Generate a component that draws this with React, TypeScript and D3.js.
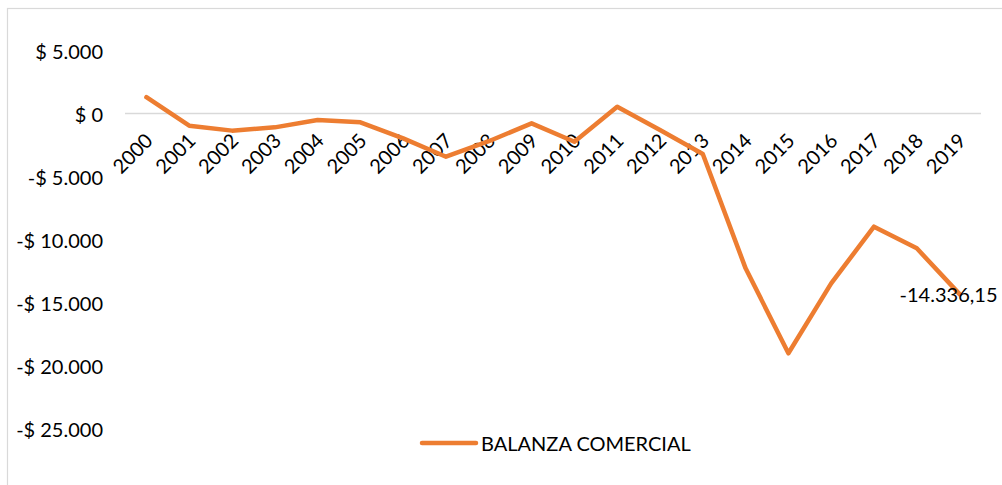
import React from "react";
import * as d3 from "d3";

const years = ["2000","2001","2002","2003","2004","2005","2006","2007","2008","2009","2010","2011","2012","2013","2014","2015","2016","2017","2018","2019"];
const balanza = [1290, -970, -1360, -1100, -520, -700, -1970, -3430, -2200, -780, -2240, 540, -1310, -3210, -12290, -19030, -13480, -8980, -10700, -14336.15];
const yTicks = [5000, 0, -5000, -10000, -15000, -20000, -25000];
const seriesName = "BALANZA COMERCIAL";
const lastLabel = "-14.336,15";

const W = 1002;
const H = 485;
const FONT = "Lato, 'Open Sans', sans-serif";
const ORANGE = "#ED7D31";
const FS = 20;

const fmtTick = (v: number) => {
  const s = d3.format(",")(Math.abs(v)).replace(/,/g, ".");
  return (v < 0 ? "-$ " : "$ ") + s;
};

export default function App() {
  const x = d3.scaleBand<string>().domain(years).range([125, 981]);
  const y = d3.scaleLinear().domain([-25000, 5000]).range([428.5, 50.5]);
  const cx = (d: string) => (x(d) ?? 0) + x.bandwidth() / 2;

  const line = d3
    .line<number>()
    .x((_, i) => cx(years[i]))
    .y((d) => y(d));

  const lastX = cx(years[years.length - 1]);
  const lastY = y(balanza[balanza.length - 1]);

  return (
    <svg width={W} height={H} style={{ position: "absolute", left: 0, top: 0, background: "#fff" }} fontFamily={FONT}>
      <rect x={7.5} y={8.5} width={W + 10} height={H + 10} fill="#fff" stroke="#d9d9d9" strokeWidth={1.2} />
      {yTicks.map((t) => (
        <text key={t} x={103} y={y(t)} textAnchor="end" dominantBaseline="central" fontSize={FS} fill="#000">
          {fmtTick(t)}
        </text>
      ))}
      <line x1={125} x2={981} y1={y(0)} y2={y(0)} stroke="#d9d9d9" strokeWidth={1.5} />
      {years.map((yr) => (
        <text
          key={yr}
          transform={`translate(${cx(yr) + 2},${y(0) + 23}) rotate(-45)`}
          textAnchor="end"
          dominantBaseline="central"
          fontSize={FS}
          fill="#000"
        >
          {yr}
        </text>
      ))}
      <path d={line(balanza) ?? ""} fill="none" stroke={ORANGE} strokeWidth={4.5} strokeLinejoin="round" strokeLinecap="round" />
      <text x={lastX - 60} y={lastY} dominantBaseline="central" fontSize={FS} fill="#000">
        {lastLabel}
      </text>
      <line x1={422} x2={476} y1={443} y2={443} stroke={ORANGE} strokeWidth={4.5} strokeLinecap="round" />
      <text x={481} y={443} dominantBaseline="central" fontSize={FS} fill="#000">
        {seriesName}
      </text>
    </svg>
  );
}
